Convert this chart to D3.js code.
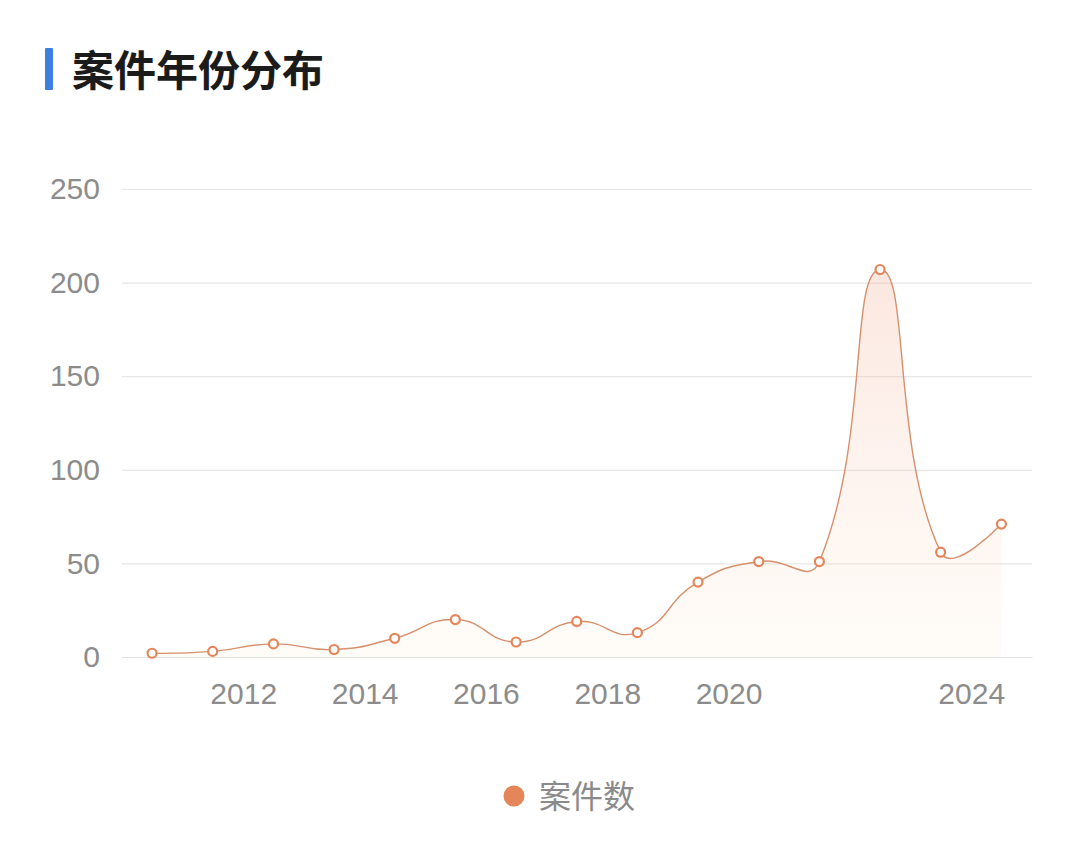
<!DOCTYPE html>
<html>
<head>
<meta charset="utf-8">
<script src="https://cdn.jsdelivr.net/npm/d3@7/dist/d3.min.js"></script>
<style>
  body { margin: 0; background: #fff; }
  text { font-family: "Noto Sans CJK SC", "Noto Sans", sans-serif; }
</style>
</head>
<body>
<div id="chart"></div>
<script>
// data
var years = [2010, 2011, 2012, 2013, 2014, 2015, 2016, 2017, 2018, 2019, 2020, 2021, 2022, 2023, 2024];
var counts = [2, 3, 7, 4, 10, 20, 8, 19, 13, 40, 51, 51, 207, 56, 71];
var yTicks = [0, 50, 100, 150, 200, 250];
var xTickYears = [2012, 2014, 2016, 2018, 2020, 2024];
var title = "案件年份分布";
var seriesName = "案件数";

const width = 1080, height = 845;
var plotLeft = 122, plotRight = 1032, plotTop = 189, plotBottom = 657;
var smooth = 0.5;

var svg = d3.select("#chart").append("svg")
  .attr("width", width)
  .attr("height", height);

// x is a time axis, each year sits in the middle of its year
var x = d3.scaleTime()
  .domain([new Date(2010, 0, 1), new Date(2025, 0, 1)])
  .range([plotLeft, plotRight]);
var y = d3.scaleLinear().domain([0, 250]).range([plotBottom, plotTop]);

var pts = years.map((yr, i) => ({ date: new Date(yr, 6, 1), v: counts[i] }));
var xy = pts.map(d => [x(d.date), y(d.v)]);

// smoothing like the original chart lib: control points scaled by segment lengths
function smoothPath(p, ctx) {
  var cx0, cy0;
  ctx.moveTo(p[0][0], p[0][1]);
  cx0 = p[0][0]; cy0 = p[0][1];
  for (var i = 1; i < p.length; i++) {
    var px = p[i - 1][0], py = p[i - 1][1], cx = p[i][0], cy = p[i][1];
    var cx1, cy1, vx = 0, vy = 0, r = 0.5;
    if (i == p.length - 1) {
      cx1 = cx; cy1 = cy;
    } else {
      var nx = p[i + 1][0], ny = p[i + 1][1];
      vx = nx - px; vy = ny - py;
      var l0 = Math.hypot(cx - px, cy - py), l1 = Math.hypot(nx - cx, ny - cy);
      r = l1 / (l0 + l1);
      cx1 = cx - vx * smooth * (1 - r);
      cy1 = cy - vy * smooth * (1 - r);
    }
    ctx.bezierCurveTo(cx0, cy0, cx1, cy1, cx, cy);
    cx0 = cx + vx * smooth * r;
    cy0 = cy + vy * smooth * r;
  }
  return ctx;
}

// title
svg.append("rect").attr("x", 45).attr("y", 48).attr("width", 8).attr("height", 42)
  .attr("rx", 1).style("fill", "#3f7fe0");
svg.append("text").attr("x", 72).attr("y", 86)
  .style("font-size", "42px").style("font-weight", "600").style("fill", "#1b1b1b")
  .text(title);

// grid
var yAxis = d3.axisLeft(y).tickValues(yTicks).tickSize(-(plotRight - plotLeft)).tickPadding(22);
var gy = svg.append("g").attr("transform", "translate(" + plotLeft + ",0)").call(yAxis);
gy.select(".domain").remove();
gy.selectAll("line").style("stroke", "#e6e6e6").style("stroke-width", 1.2);
gy.selectAll("text").style("font-size", "30px").style("fill", "#8c8c8c")
  .style("font-family", "'Liberation Sans', Arial, sans-serif");

var xAxis = d3.axisBottom(x).tickValues(xTickYears.map(d => new Date(d, 0, 1)))
  .tickFormat(d3.timeFormat("%Y")).tickSize(0).tickPadding(26);
var gx = svg.append("g").attr("transform", "translate(0," + plotBottom + ")").call(xAxis);
gx.select(".domain").style("stroke", "#e2e2e2").style("stroke-width", 1.2);
gx.selectAll("text").style("font-size", "30px").style("fill", "#8c8c8c")
  .style("font-family", "'Liberation Sans', Arial, sans-serif");

// area gradient
var defs = svg.append("defs");
var grad = defs.append("linearGradient").attr("id", "fillGrad")
  .attr("x1", 0).attr("y1", 0).attr("x2", 0).attr("y2", 1);
grad.append("stop").attr("offset", "0%").attr("stop-color", "#f0a080").attr("stop-opacity", 0.25);
grad.append("stop").attr("offset", "100%").attr("stop-color", "#ffe8d0").attr("stop-opacity", 0.15);

var areaPath = smoothPath(xy, d3.path());
areaPath.lineTo(xy[xy.length - 1][0], y(0));
areaPath.lineTo(xy[0][0], y(0));
areaPath.closePath();
svg.append("path").attr("d", areaPath.toString()).style("fill", "url(#fillGrad)");

svg.append("path").attr("d", smoothPath(xy, d3.path()).toString())
  .style("fill", "none").style("stroke", "#d6916c").style("stroke-width", 1.4);

svg.selectAll("circle.pt").data(pts).enter().append("circle")
  .attr("class", "pt")
  .attr("cx", d => x(d.date)).attr("cy", d => y(d.v)).attr("r", 4.5)
  .style("fill", "#fff").style("stroke", "#e5855a").style("stroke-width", 2.2);

// legend
svg.append("circle").attr("cx", 514).attr("cy", 796).attr("r", 10.5).style("fill", "#e5855a");
svg.append("text").attr("x", 539).attr("y", 808)
  .style("font-size", "32px").style("fill", "#8a8a8a")
  .text(seriesName);
</script>
</body>
</html>
